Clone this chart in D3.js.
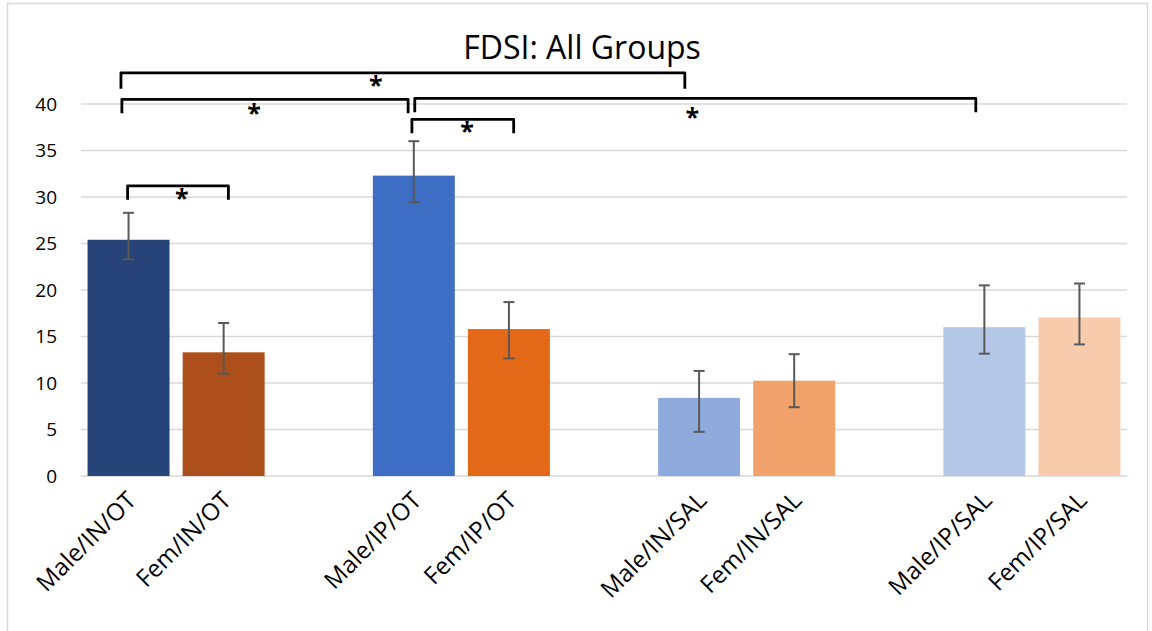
<!DOCTYPE html>
<html>
<head>
<meta charset="utf-8">
<script src="https://cdn.jsdelivr.net/npm/d3@7"></script>
<style>
  body { margin: 0; background: #fff; }
  svg { display: block; font-family: "Open Sans", sans-serif; }
</style>
</head>
<body>
<svg id="chart" width="1152" height="631"></svg>
<script>
// FDSI scores per group: mean with upper/lower error limits
const categories = ["Male/IN/OT", "Fem/IN/OT", "Male/IP/OT", "Fem/IP/OT",
                    "Male/IN/SAL", "Fem/IN/SAL", "Male/IP/SAL", "Fem/IP/SAL"];
const values   = [25.4, 13.3, 32.3, 15.8, 8.4, 10.25, 16.0, 17.05];
const errHigh  = [28.3, 16.45, 36.0, 18.7, 11.3, 13.1, 20.5, 20.7];
const errLow   = [23.3, 11.0, 29.45, 12.65, 4.75, 7.4, 13.15, 14.15];
const barColors = ["#264478", "#AD4F1B", "#3E6DC4", "#E36918",
                   "#8FAADC", "#F1A26A", "#B4C7E7", "#F8CBAD"];
const yTicks = [0, 5, 10, 15, 20, 25, 30, 35, 40];

// Significance brackets, ends given in slot units (0 = first bar, gaps count as slots)
const bracketFrom  = [-0.08, -0.07, 3.01, 2.98, -0.01];
const bracketTo    = [5.85, 2.94, 8.91, 4.05, 1.05];
const bracketLevel = [43.35, 40.5, 40.6, 38.35, 31.2];
const bracketDrop  = [1.7, 1.5, 1.5, 1.5, 1.5];
const starSlot     = [2.6, 1.32, 5.93, 3.56, 0.56];
const starLevel    = [42.1, 39.15, 38.7, 37.2, 30.05];

const svg = d3.select("#chart");
const plot = { left: 81, right: 1127, top: 104, bottom: 476 };

// chart frame
svg.append("rect")
  .attr("x", 7.5).attr("y", 3.5)
  .attr("width", 1140).attr("height", 640)
  .attr("fill", "#fff").attr("stroke", "#d9d9d9").attr("stroke-width", 1.5);

// slots: each pair of bars followed by an empty slot
const slots = [];
categories.forEach((c, i) => {
  slots.push(c);
  if (i % 2 === 1 && i < categories.length - 1) slots.push("gap" + i);
});

const pad = 0.138;
const x = d3.scaleBand().domain(slots)
  .range([plot.left, plot.right])
  .paddingInner(pad).paddingOuter(pad / 2);
const y = d3.scaleLinear().domain([0, 40]).range([plot.bottom, plot.top]);
const slotX = d3.scaleLinear().domain([0, 1])
  .range([x(slots[0]) + x.bandwidth() / 2, x(slots[1]) + x.bandwidth() / 2]);

// gridlines
svg.append("g")
  .selectAll("line").data(yTicks).join("line")
  .attr("x1", plot.left).attr("x2", plot.right)
  .attr("y1", d => y(d)).attr("y2", d => y(d))
  .attr("stroke", "#d9d9d9").attr("stroke-width", 1.5);

// y axis labels
const yAxis = svg.append("g")
  .attr("transform", `translate(${plot.left - 24},0)`)
  .call(d3.axisLeft(y).tickValues(yTicks).tickSize(0).tickPadding(0));
yAxis.select(".domain").remove();
yAxis.selectAll("text")
  .attr("font-family", "Open Sans, sans-serif")
  .attr("font-size", 19).attr("fill", "#000");

// bars
svg.append("g")
  .selectAll("rect").data(categories).join("rect")
  .attr("x", d => x(d))
  .attr("width", x.bandwidth())
  .attr("y", (d, i) => y(values[i]))
  .attr("height", (d, i) => y(0) - y(values[i]))
  .attr("fill", (d, i) => barColors[i]);

// error bars
const eb = svg.append("g").attr("stroke", "#595959").attr("stroke-width", 2).attr("fill", "none");
const cap = 5.5;
categories.forEach((c, i) => {
  const cx = x(c) + x.bandwidth() / 2;
  eb.append("line").attr("x1", cx).attr("x2", cx).attr("y1", y(errHigh[i])).attr("y2", y(errLow[i]));
  eb.append("line").attr("x1", cx - cap).attr("x2", cx + cap).attr("y1", y(errHigh[i])).attr("y2", y(errHigh[i]));
  eb.append("line").attr("x1", cx - cap).attr("x2", cx + cap).attr("y1", y(errLow[i])).attr("y2", y(errLow[i]));
});

// x axis category labels, rotated
const xl = svg.append("g");
categories.forEach(c => {
  const cx = x(c) + x.bandwidth() / 2;
  xl.append("text")
    .attr("transform", `translate(${cx + 9},${plot.bottom + 26}) rotate(-45)`)
    .attr("text-anchor", "end")
    .attr("font-size", 24).attr("fill", "#000")
    .text(c);
});

// significance brackets
const br = svg.append("g").attr("stroke", "#000").attr("stroke-width", 2.8)
  .attr("fill", "none").attr("stroke-linejoin", "round");
bracketFrom.forEach((f, i) => {
  const x0 = slotX(f), x1 = slotX(bracketTo[i]);
  const yl = y(bracketLevel[i]), yd = y(bracketLevel[i] - bracketDrop[i]);
  br.append("path").attr("d", `M${x0},${yd}L${x0},${yl}L${x1},${yl}L${x1},${yd}`);
});
svg.append("g").selectAll("text").data(starSlot).join("text")
  .attr("x", d => slotX(d))
  .attr("y", (d, i) => y(starLevel[i]) + 10)
  .attr("text-anchor", "middle")
  .attr("font-size", 25).attr("font-weight", "bold").attr("fill", "#000")
  .text("*");

// title
svg.append("text")
  .attr("x", 582).attr("y", 59)
  .attr("text-anchor", "middle")
  .attr("font-size", 32).attr("fill", "#000")
  .text("FDSI: All Groups");
</script>
</body>
</html>
